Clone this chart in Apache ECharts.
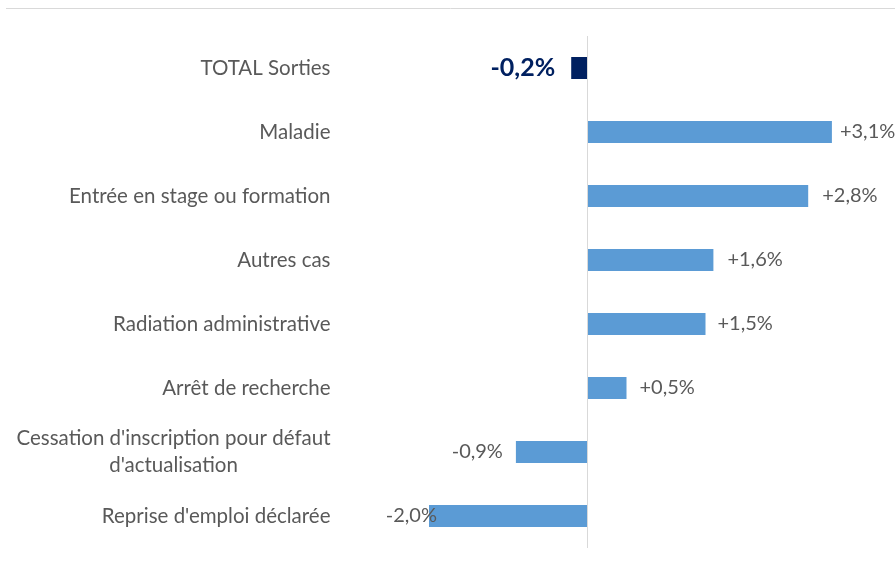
<!DOCTYPE html>
<html><head><meta charset="utf-8">
<script src="https://cdn.jsdelivr.net/npm/echarts@6/dist/echarts.min.js"></script>
<style>html,body{margin:0;padding:0;background:#fff}#c{width:895px;height:570px}</style>
</head><body><div id="c"></div>
<script>
var categories = ["TOTAL Sorties","Maladie","Entrée en stage ou formation","Autres cas","Radiation administrative","Arrêt de recherche","Cessation d'inscription pour défaut\nd'actualisation","Reprise d'emploi déclarée"];
var values = [-0.2, 3.1, 2.8, 1.6, 1.5, 0.5, -0.9, -2.0];
var labelGaps = [16, 8, 14, 14, 12, 13, 13, -8];

function fmt(v){ return (v>0?'+':'') + v.toFixed(1).replace('.', ',') + '%'; }

var chart = echarts.init(document.getElementById('c'));
var data = values.map(function(v,i){
  var item = {value: v, label: {position: v<0?'left':'right', distance: labelGaps[i]}};
  if(i===0){
    item.itemStyle = {color:'#002060'};
    item.label.color = '#002060'; item.label.fontWeight='bold'; item.label.fontSize=25;
  }
  return item;
});
chart.setOption({
  animation:false,
  textStyle:{fontFamily:'Lato'},
  graphic:[{type:'line',shape:{x1:6,y1:8.5,x2:895,y2:8.5},style:{stroke:'#d9d9d9',lineWidth:1}}],
  grid:{left:389.5,top:36,width:474,height:512,containLabel:false},
  xAxis:{type:'value',min:-2.5,max:3.5,show:false},
  yAxis:{type:'category',inverse:true,data:categories,
    axisLine:{show:false},axisTick:{show:false},
    axisLabel:{margin:59,color:'#595959',fontSize:20.5,fontFamily:'Lato',
      formatter:function(v){ var p=v.split('\n'); return p.map(function(s){return '{c|'+s+'}';}).join('\n'); },
      rich:{c:{align:'center',fontSize:20.5,color:'#595959',lineHeight:27,fontFamily:'Lato'}}}},
  series:[{type:'bar',data:data,barWidth:22,itemStyle:{color:'#5B9BD5'},
    label:{show:true,color:'#595959',fontSize:20,fontFamily:'Lato',formatter:function(p){return fmt(p.value);}},
    markLine:{silent:true,symbol:'none',label:{show:false},lineStyle:{color:'#d9d9d9',type:'solid',width:1},data:[{xAxis:0}]}
  }]
});
</script></body></html>
